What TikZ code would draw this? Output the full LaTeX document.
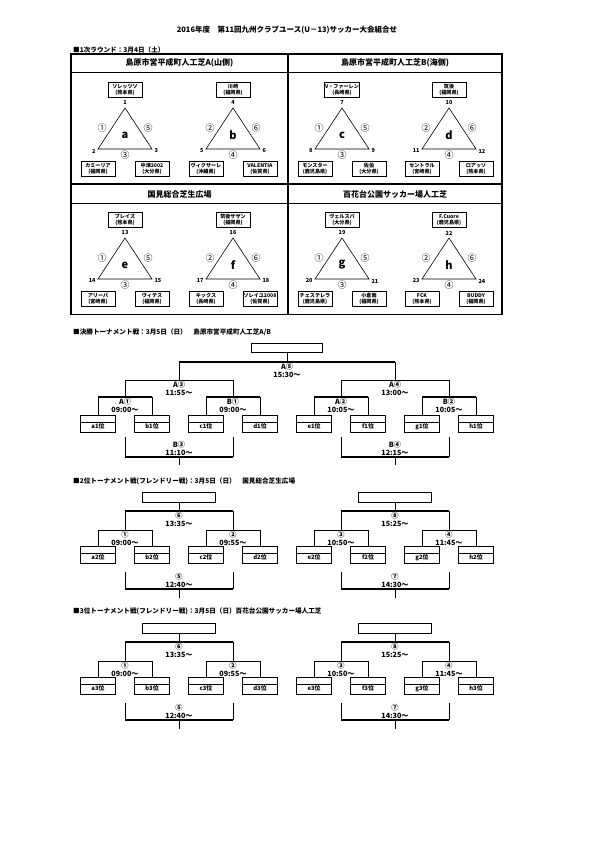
\documentclass[tikz,border=0pt]{standalone}
\usepackage{fontspec}
\setmainfont{Noto Sans CJK JP}
\usetikzlibrary{positioning,calc}
\newcommand{\fsz}[2]{\fontsize{#1}{#2}\selectfont}
\begin{document}
\begin{tikzpicture}[
  x=1pt,y=-1pt,
  font=\fsz{5}{6},
  frame/.style={line width=1.3pt},
  rule/.style={line width=0.6pt},
  tri/.style={line width=0.6pt},
  team/.style={draw,line width=0.9pt,align=center,inner sep=0.5pt,
               minimum width=34,minimum height=15,font=\fsz{5.1}{5.8}\bfseries},
  vno/.style={inner sep=0.3pt,font=\fsz{5.5}{5.5}\bfseries},
  mno/.style={inner sep=0pt,font=\fsz{9}{9}},
  grp/.style={inner sep=0pt,font=\fsz{11}{11}\bfseries},
  venue/.style={inner sep=0pt,font=\fsz{8}{8}\bfseries},
  sec/.style={anchor=west,inner sep=0pt,font=\fsz{6.6}{6.6}\bfseries},
  ttl/.style={inner sep=0pt,font=\fsz{7.5}{7.5}\bfseries},
  slot/.style={draw,line width=1pt,minimum width=35,minimum height=7,inner sep=0pt},
  seed/.style={draw,line width=1pt,minimum width=35,minimum height=10,inner sep=0pt,
               text height=4.4pt,text depth=1.2pt,font=\fsz{5.9}{5.9}\bfseries},
  win/.style={draw,line width=1pt,minimum width=73,minimum height=9.5,inner sep=0pt},
  br/.style={line width=0.55pt},
  brb/.style={line width=1.3pt},
  ml/.style={anchor=north,align=center,inner sep=0.5pt,font=\fsz{7.2}{8.4}\bfseries},
  mlu/.style={ml,anchor=south},
]
\useasboundingbox (0,0) rectangle (595,842);

\node[ttl] (title) at (287,30) {2016年度　第11回九州クラブユース(U－13)サッカー大会組合せ};

% first round
\node[sec] (h1) at (73,50) {■1次ラウンド：3月4日（土）};
\draw[frame] (71,54) rectangle (502,314.5);
\draw[frame] (288,54) -- (288,314.5);
\draw[rule] (71,72) -- (502,72);
\draw[frame] (71,184) -- (502,184);
\draw[rule] (71,203) -- (502,203);
\node[venue] (vA) at (179.5,63) {島原市営平成町人工芝A(山側)};
\node[venue] (vB) at (395,63) {島原市営平成町人工芝B(海側)};
\node[venue] (vC) at (179.5,194) {国見総合芝生広場};
\node[venue] (vD) at (395,194) {百花台公園サッカー場人工芝};

\foreach \g/\cx/\yo/\nn/\tA/\pA/\tB/\pB/\tC/\pC/\mL/\mR/\mB in {
  a/125/0/1/ソレッツソ/熊本県/カミーリア/福岡県/中津2002/大分県/①/⑤/③,
  b/233/0/4/川崎/福岡県/ヴィクサーレ/沖縄県/VALENTIA/佐賀県/②/⑥/④,
  c/342/0/7/V・ファーレン/長崎県/モンスター/鹿児島県/佐伯/大分県/①/⑤/③,
  d/449/0/10/筑後/福岡県/セントラル/宮崎県/ロアッソ/熊本県/②/⑥/④,
  e/125/130/13/ブレイズ/熊本県/アリーバ/宮崎県/ヴィテス/福岡県/①/⑤/③,
  f/233/130/16/筑後サザン/福岡県/キックス/長崎県/ソレイユ2008/佐賀県/②/⑥/④,
  g/342/130/19/ヴェルスパ/大分県/チェステレラ/鹿児島県/小倉南/福岡県/①/⑤/③,
  h/449/130/22/F.Cuore/鹿児島県/FCK/熊本県/BUDDY/福岡県/②/⑥/④}
{
  \pgfmathtruncatemacro{\nB}{\nn+1}
  \pgfmathtruncatemacro{\nC}{\nn+2}
  \begin{scope}[shift={(0,\yo)}]
    \node[team] (t\g1) at (\cx,90) {\tA\\(\pA)};
    \node[team] (t\g2) at (\cx-27,169) {\tB\\(\pB)};
    \node[team] (t\g3) at (\cx+27,169) {\tC\\(\pC)};
    \coordinate (v\g1) at (\cx,108);
    \coordinate (v\g2) at (\cx-27,149);
    \coordinate (v\g3) at (\cx+27,149);
    \draw[tri] (v\g1) -- (v\g2) -- (v\g3) -- cycle;
    \node[vno] (n\g1) at (\cx,103) {\nn};
    \node[vno,anchor=east] (n\g2) at (\cx-29,151) {\nB};
    \node[vno,anchor=west] (n\g3) at (\cx+29,151) {\nC};
    \node[mno] (m\g1) at (\cx-23,128) {\mL};
    \node[mno] (m\g2) at (\cx+23,128) {\mR};
    \node[mno] (m\g3) at (\cx,155) {\mB};
    \node[grp] (g\g) at (\cx,135) {\g};
  \end{scope}
}

% final tournament
\node[sec] (h2) at (73,332) {■決勝トーナメント戦：3月5日（日）　島原市営平成町人工芝A/B};
\node[win,minimum width=71] (champ) at (287,348) {};
\coordinate (A5) at (287,362);
\coordinate (A3) at (179,380);
\coordinate (A4) at (395,380);
\foreach \m/\x in {A1/125,B1/233,A2/341,B2/449}
  \coordinate (\m) at (\x,397);
\foreach \s/\x in {a/98,b/152,c/206,d/260,e/314,f/368,g/422,h/476}{
  \node[slot] (u1\s) at (\x,418.5) {};
  \node[seed] (s1\s) at (\x,427) {\s1位};
}
\draw[br] (champ.south) -- (A5);
\draw[brb] (A3 |- A5) -- (A4 |- A5);
\foreach \c in {A3,A4}
  \draw[br] (\c) -- (\c |- A5);
\draw[br] (A1 |- A3) -- (B1 |- A3);
\draw[br] (A2 |- A4) -- (B2 |- A4);
\foreach \c/\p in {A1/A3,B1/A3,A2/A4,B2/A4}
  \draw[br] (\c) -- (\c |- \p);
\foreach \sl/\sr/\p in {a/b/A1,c/d/B1,e/f/A2,g/h/B2}{
  \draw[brb] (u1\sl.north |- \p) -- (u1\sr.north |- \p);
  \draw[br] (u1\sl.north) -- (u1\sl.north |- \p);
  \draw[br] (u1\sr.north) -- (u1\sr.north |- \p);
}
\foreach \m/\lb/\tm in {A5/A⑤/15:30～,A3/A③/11:55～,A4/A④/13:00～,
                        A1/A①/09:00～,B1/B①/09:00～,A2/A②/10:05～,B2/B②/10:05～}
  \node[ml] (l\m) at ($(\m)+(0,0.5)$) {\lb\\\tm};
\foreach \m/\lb/\tm/\x in {B3/B③/11:10～/179,B4/B④/12:15～/395}{
  \coordinate (\m) at (\x,457);
  \coordinate (\m-l) at (\x-54,437);
  \coordinate (\m-r) at (\x+54,437);
  \coordinate (\m-o) at (\x,465);
  \draw[br] (\m-l) -- (\m-l |- \m);
  \draw[br] (\m-r) -- (\m-r |- \m);
  \draw[brb] (\m-l |- \m) -- (\m-r |- \m);
  \draw[br] (\m) -- (\m-o);
  \node[mlu] (l\m) at ($(\m)+(0,-0.5)$) {\lb\\\tm};
}

% 2nd and 3rd place tournaments
\node[sec] (h3) at (73,481) {■2位トーナメント戦(フレンドリー戦)：3月5日（日）　国見総合芝生広場};
\node[sec] (h4) at (73,611) {■3位トーナメント戦(フレンドリー戦)：3月5日（日）百花台公園サッカー場人工芝};
\foreach \yo/\rk in {0/2,131/3}{
  \foreach \hx/\mT/\tT/\mL/\tL/\mR/\tR/\mB/\tB/\sA/\sB/\sC/\sD in {
    179/⑥/13:35～/①/09:00～/②/09:55～/⑤/12:40～/a/b/c/d,
    395/⑧/15:25～/③/10:50～/④/11:45～/⑦/14:30～/e/f/g/h}{
    \begin{scope}[shift={(0,\yo)}]
      \node[win] (w\rk\sA) at (\hx,497.5) {};
      \coordinate (k\rk\sA) at (\hx,511);
      \coordinate (p\rk\sA) at (\hx-54,530);
      \coordinate (p\rk\sC) at (\hx+54,530);
      \foreach \s/\dx in {\sA/-81,\sB/-27,\sC/27,\sD/81}{
        \node[slot] (u\rk\s) at (\hx+\dx,549.5) {};
        \node[seed] (s\rk\s) at (\hx+\dx,558) {\s\rk 位};
      }
      \draw[br] (w\rk\sA.south) -- (k\rk\sA);
      \draw[brb] (p\rk\sA |- k\rk\sA) -- (p\rk\sC |- k\rk\sA);
      \draw[br] (p\rk\sA) -- (p\rk\sA |- k\rk\sA);
      \draw[br] (p\rk\sC) -- (p\rk\sC |- k\rk\sA);
      \foreach \sl/\sr/\p in {\sA/\sB/\sA,\sC/\sD/\sC}{
        \draw[br] (u\rk\sl.north |- p\rk\p) -- (u\rk\sr.north |- p\rk\p);
        \draw[br] (u\rk\sl.north) -- (u\rk\sl.north |- p\rk\p);
        \draw[br] (u\rk\sr.north) -- (u\rk\sr.north |- p\rk\p);
      }
      \node[ml] (lt\rk\sA) at ($(k\rk\sA)+(0,0.5)$) {\mT\\\tT};
      \node[ml] (ll\rk\sA) at ($(p\rk\sA)+(0,0.5)$) {\mL\\\tL};
      \node[ml] (lr\rk\sA) at ($(p\rk\sC)+(0,0.5)$) {\mR\\\tR};
      % losers' match
      \coordinate (q\rk\sA) at (\hx,589);
      \coordinate (q\rk\sA-l) at (\hx-54,572);
      \coordinate (q\rk\sA-r) at (\hx+54,572);
      \coordinate (q\rk\sA-o) at (\hx,598);
      \draw[br] (q\rk\sA-l) -- (q\rk\sA-l |- q\rk\sA);
      \draw[br] (q\rk\sA-r) -- (q\rk\sA-r |- q\rk\sA);
      \draw[brb] (q\rk\sA-l |- q\rk\sA) -- (q\rk\sA-r |- q\rk\sA);
      \draw[br] (q\rk\sA) -- (q\rk\sA-o);
      \node[mlu] (lb\rk\sA) at ($(q\rk\sA)+(0,-0.5)$) {\mB\\\tB};
    \end{scope}
  }
}
\end{tikzpicture}
\end{document}
